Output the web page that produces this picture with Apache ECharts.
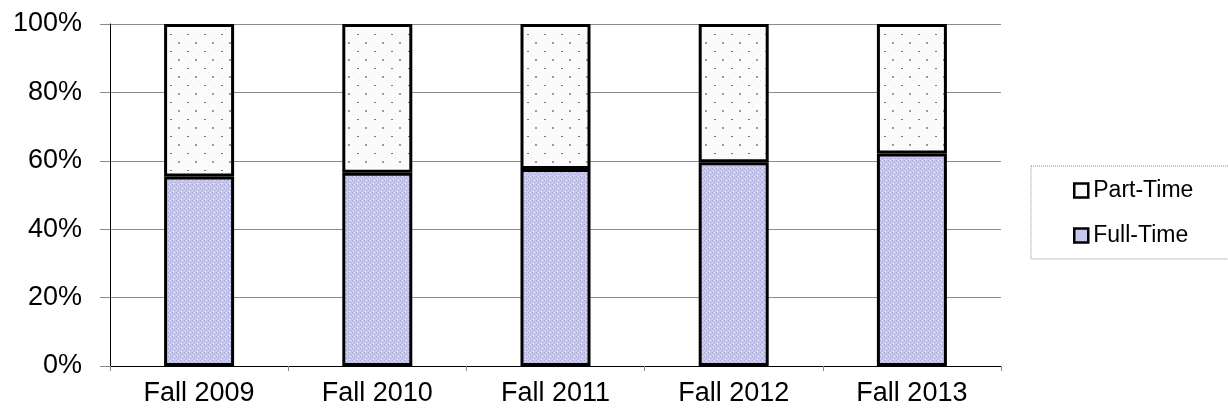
<!DOCTYPE html>
<html><head><meta charset="utf-8">
<script src="https://cdn.jsdelivr.net/npm/echarts@6/dist/echarts.min.js"></script>
<style>html,body{margin:0;padding:0;background:#fff}#c{width:1228px;height:410px}</style>
</head><body><div id="c"></div>
<script>
const categories = ['Fall 2009', 'Fall 2010', 'Fall 2011', 'Fall 2012', 'Fall 2013'];
const fullTime = [55.4, 56.5, 57.6, 59.6, 62.1];
const partTime = [44.6, 43.5, 42.4, 40.4, 37.9];
const yTicks = [0, 20, 40, 60, 80, 100];

function makePattern(kind) {
  const c = document.createElement('canvas');
  const ctx = c.getContext('2d');
  if (kind === 'full') {
    c.width = 8; c.height = 8;
    ctx.fillStyle = '#c6c6ef'; ctx.fillRect(0, 0, 8, 8);
    ctx.fillStyle = '#a9a9d6';
    [[0,0],[4,0],[2,2],[6,2],[0,4],[4,4],[2,6],[6,6]].forEach(p => ctx.fillRect(p[0], p[1], 1, 1));
    ctx.fillStyle = '#ececff';
    [[2,0],[6,4],[1,3],[5,7]].forEach(p => ctx.fillRect(p[0], p[1], 1, 1));
  } else {
    c.width = 17; c.height = 17;
    ctx.fillStyle = '#fbfbfb'; ctx.fillRect(0, 0, 17, 17);
    ctx.fillStyle = '#e3e3e3';
    [[4,4],[12,12],[12,4],[4,12]].forEach(p => ctx.fillRect(p[0], p[1], 1, 1));
    ctx.fillStyle = '#777';
    ctx.fillRect(0, 0, 2, 1);
    ctx.fillStyle = '#999';
    ctx.fillRect(8, 8, 2, 2);
  }
  return c;
}
const fullPat = { image: makePattern('full'), repeat: 'repeat' };
const partPat = { image: makePattern('part'), repeat: 'repeat' };

const chart = echarts.init(document.getElementById('c'), null, { renderer: 'canvas' });
const font = 'Liberation Sans, Arial, sans-serif';
chart.setOption({
  animation: false,
  backgroundColor: '#fff',
  grid: { left: 110, right: 227, top: 24, bottom: 44, containLabel: false },
  legend: {
    orient: 'vertical',
    left: 1031, top: 166,
    padding: [13, 60, 12, 42],
    itemGap: 22,
    itemWidth: 14, itemHeight: 14,
    borderColor: '#8a8a8a', borderWidth: 1, borderType: [1, 1],
    textStyle: { fontFamily: font, fontSize: 23, color: '#000', lineHeight: 22 },
    data: [
      { name: 'Part-Time', icon: 'rect', itemStyle: { color: '#fafafa', borderColor: '#000', borderWidth: 2.5 } },
      { name: 'Full-Time', icon: 'rect', itemStyle: { color: '#c6c6ef', borderColor: '#000', borderWidth: 2.5 } }
    ]
  },
  xAxis: {
    type: 'category', data: categories,
    axisLine: { lineStyle: { color: '#000', width: 1 } },
    axisTick: { show: true, length: 5, lineStyle: { color: '#888' } },
    axisLabel: { fontFamily: font, fontSize: 27, color: '#000', margin: 14 },
    splitLine: { show: false }
  },
  yAxis: {
    type: 'value', min: yTicks[0], max: yTicks[yTicks.length - 1], interval: yTicks[1] - yTicks[0],
    axisLine: { show: true, lineStyle: { color: '#000', width: 1 } },
    axisTick: { show: true, length: 10, lineStyle: { color: '#888' } },
    axisLabel: { fontFamily: font, fontSize: 27, color: '#000', margin: 28, formatter: '{value}%' },
    splitLine: { show: true, lineStyle: { color: '#8c8c8c', width: 1 } }
  },
  series: [
    { name: 'Full-Time', type: 'bar', stack: 'a', data: fullTime, barWidth: 70,
      itemStyle: { color: fullPat, borderColor: '#000', borderWidth: 3 } },
    { name: 'Part-Time', type: 'bar', stack: 'a', data: partTime, barWidth: 70,
      itemStyle: { color: partPat, borderColor: '#000', borderWidth: 3 } }
  ]
});
</script></body></html>
